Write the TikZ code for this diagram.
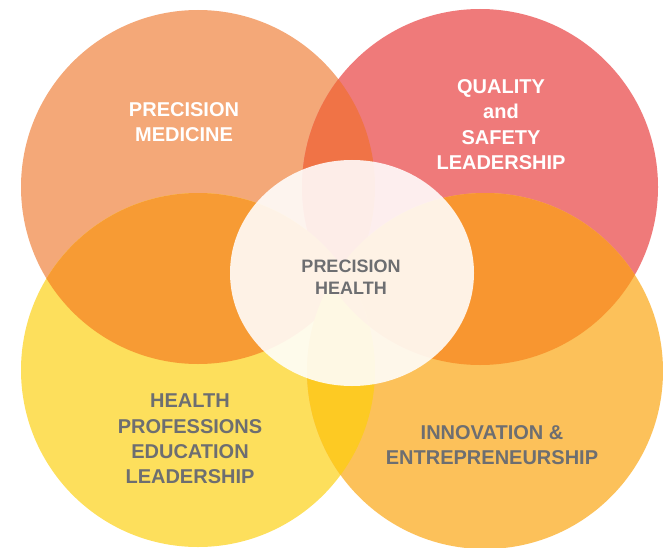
\documentclass[tikz,border=0pt]{standalone}
\usepackage{fontspec}
\setmainfont{Liberation Sans}
\definecolor{cTL}{HTML}{F4A878}
\definecolor{cTR}{HTML}{EF7A7A}
\definecolor{cBL}{HTML}{FDDF5C}
\definecolor{cBR}{HTML}{FCC15A}
\definecolor{cTLTR}{HTML}{F07346}
\definecolor{cTLBL}{HTML}{F79B34}
\definecolor{cTRBR}{HTML}{F89630}
\definecolor{cBLBR}{HTML}{FDCA23}
\definecolor{txtgray}{HTML}{6D6E71}
\tikzset{
  lbl/.style={align=center, inner sep=0pt, font=\fontsize{20}{25.4}\selectfont\bfseries},
  lblwhite/.style={lbl, text=white},
  lblgray/.style={lbl, text=txtgray},
}
\begin{document}
\begin{tikzpicture}[x=1pt,y=-1pt]
\useasboundingbox (0,0) rectangle (663,548);
\def\TL{(198,187) circle[radius=177pt]}
\def\TR{(480,187) circle[radius=178pt]}
\def\BL{(198,370) circle[radius=177pt]}
\def\BR{(485,371) circle[radius=178pt]}
\fill[cTL] \TL;
\fill[cTR] \TR;
\fill[cBL] \BL;
\fill[cBR] \BR;
\begin{scope}
  \clip \TL;
  \fill[cTLTR] \TR;
  \fill[cTLBL] \BL;
  \fill[cTRBR] \BR;
\end{scope}
\begin{scope}
  \clip \BR;
  \fill[cTRBR] \TR;
  \fill[cBLBR] \BL;
\end{scope}
\begin{scope}
  \clip \TR;
  \fill[cTLBL] \BL;
\end{scope}
\fill[white, fill opacity=0.88] (352,273) ellipse[x radius=122pt, y radius=113pt];
\node[lblwhite] (pm) at (184,122) {PRECISION\\MEDICINE};
\node[lblwhite] (qs) at (501,124.5) {QUALITY\\and\\SAFETY\\LEADERSHIP};
\node[lblgray, font=\fontsize{18}{22}\selectfont\bfseries] (ph) at (351,277) {PRECISION\\HEALTH};
\node[lblgray] (hp) at (190,439) {HEALTH\\PROFESSIONS\\EDUCATION\\LEADERSHIP};
\node[lblgray] (ie) at (492,445) {INNOVATION \&\\ENTREPRENEURSHIP};
\end{tikzpicture}
\end{document}
